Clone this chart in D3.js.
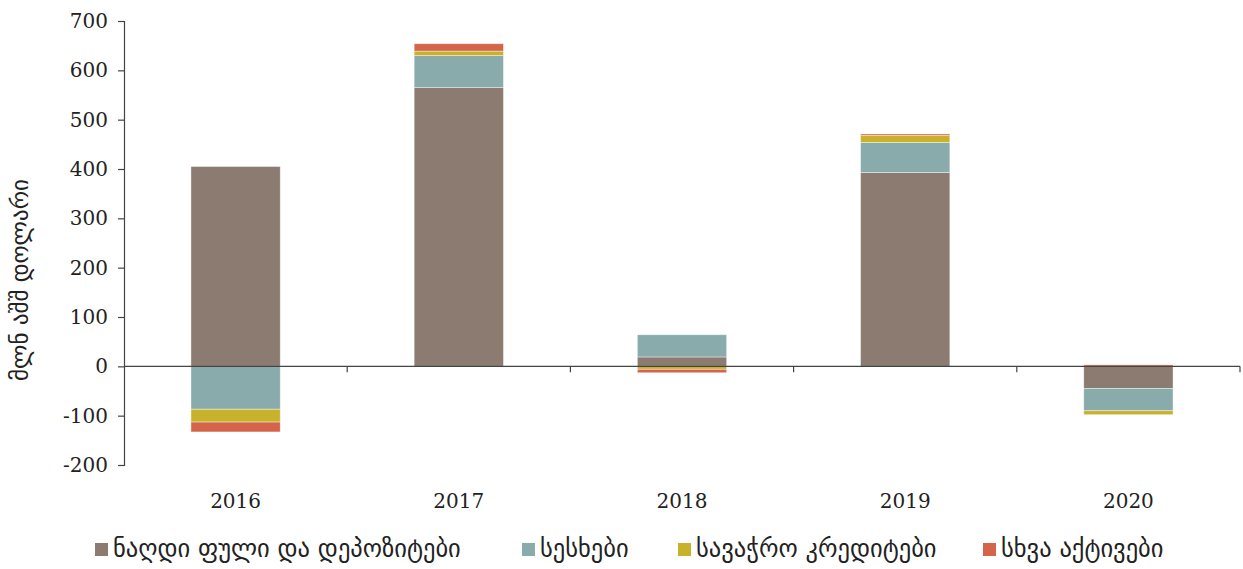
<!DOCTYPE html>
<html>
<head>
<meta charset="utf-8">
<script src="https://cdn.jsdelivr.net/npm/d3@7"></script>
<style>
  body { margin: 0; background: #fff; }
</style>
</head>
<body>
<svg id="chart" width="1243" height="569"></svg>
<script>
const years = ['2016', '2017', '2018', '2019', '2020'];
const seriesNames = ['ნაღდი ფული და დეპოზიტები', 'სესხები', 'სავაჭრო კრედიტები', 'სხვა აქტივები'];
const seriesColors = ['#8b7b70', '#8aabab', '#c9b22b', '#d5654a'];
const cash = [405, 565, 19, 393, -45];
const loans = [-87, 65, 45, 61, -45];
const tradeCredits = [-26, 9, -6, 14, -8];
const otherAssets = [-20, 15, -7, 3, 3];
const yTicks = [-200, -100, 0, 100, 200, 300, 400, 500, 600, 700];

const numFont = '"DejaVu Serif", serif';
const geoFont = '"DejaVu Sans", sans-serif';

const svg = d3.select('#chart');
const margin = {left: 124, right: 3, top: 21, bottom: 104};
const W = 1243, H = 569;

const rows = years.map((yr, i) => ({
    year: yr, s0: cash[i], s1: loans[i], s2: tradeCredits[i], s3: otherAssets[i]
}));
const stack = d3.stack().keys(['s0', 's1', 's2', 's3']).offset(d3.stackOffsetDiverging);
const layers = stack(rows);

const x = d3.scaleBand().domain(years).range([margin.left, W - margin.right]).paddingInner(0.6).paddingOuter(0.3);
const xb = d3.scaleBand().domain(years).range([margin.left, W - margin.right]);
const y = d3.scaleLinear().domain([-200, 700]).range([H - margin.bottom, margin.top]);

// bars
svg.append('g').selectAll('g')
    .data(layers)
    .join('g')
    .attr('fill', (d, i) => seriesColors[i])
    .selectAll('rect')
    .data(d => d)
    .join('rect')
    .attr('x', d => x(d.data.year))
    .attr('width', x.bandwidth())
    .attr('y', d => y(Math.max(d[0], d[1])))
    .attr('height', d => Math.abs(y(d[0]) - y(d[1])))
    .attr('stroke', '#fff')
    .attr('stroke-opacity', 0.5)
    .attr('stroke-width', 0.8);

// y axis
const yAxis = svg.append('g')
    .attr('transform', `translate(${margin.left},0)`)
    .call(d3.axisLeft(y).tickValues(yTicks).tickFormat(d => String(d)).tickSize(6).tickPadding(10));
yAxis.select('.domain').attr('stroke', '#444').attr('stroke-width', 1.2);
yAxis.selectAll('.tick line').attr('stroke', '#444').attr('stroke-width', 1.2);
yAxis.selectAll('.tick text')
    .attr('font-family', numFont).attr('font-size', 20).attr('fill', '#222');

// zero line with category ticks
const zeroAxis = svg.append('g')
    .attr('transform', `translate(0,${y(0)})`);
zeroAxis.append('line')
    .attr('x1', margin.left).attr('x2', W - margin.right)
    .attr('stroke', '#444').attr('stroke-width', 1.2);
zeroAxis.selectAll('line.sep')
    .data(years.slice(1).concat(['end']))
    .join('line')
    .attr('class', 'sep')
    .attr('x1', (d, i) => i < years.length - 1 ? xb(d) : W - margin.right)
    .attr('x2', (d, i) => i < years.length - 1 ? xb(d) : W - margin.right)
    .attr('y1', 0).attr('y2', 6)
    .attr('stroke', '#444').attr('stroke-width', 1.2);

// category labels
svg.append('g').selectAll('text')
    .data(years)
    .join('text')
    .attr('font-family', numFont).attr('font-size', 20).attr('fill', '#222')
    .attr('x', d => xb(d) + xb.bandwidth() / 2)
    .attr('y', 508)
    .attr('text-anchor', 'middle')
    .text(d => d);

// y title
svg.append('text')
    .attr('font-family', geoFont).attr('font-size', 23).attr('fill', '#222')
    .attr('transform', `translate(28,${280}) rotate(-90)`)
    .attr('text-anchor', 'middle')
    .text('მლნ  აშშ დოლარი');

// legend
const legendX = [95, 522, 678, 983];
const legend = svg.append('g').selectAll('g')
    .data(seriesNames)
    .join('g')
    .attr('transform', (d, i) => `translate(${legendX[i]},543)`);
legend.append('rect')
    .attr('width', 13).attr('height', 13)
    .attr('fill', (d, i) => seriesColors[i]);
legend.append('text')
    .attr('font-family', geoFont).attr('font-size', 24.5).attr('fill', '#222')
    .attr('x', 18).attr('y', 14)
    .text(d => d);
</script>
</body>
</html>
